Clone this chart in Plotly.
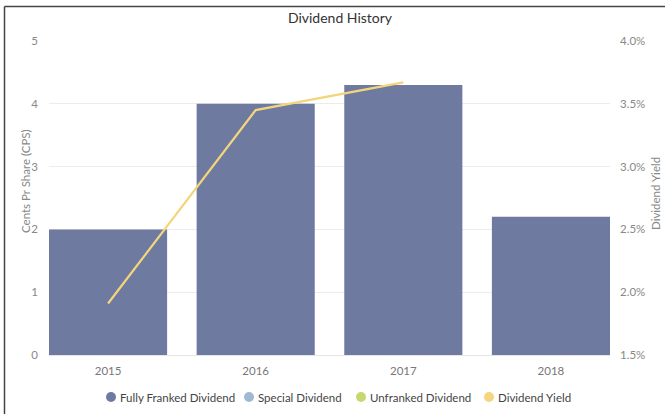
import plotly.graph_objects as go

# Dividend data
years = ["2015", "2016", "2017", "2018"]
fully_franked = [2.0, 4.0, 4.3, 2.2]          # cents per share
dividend_yield = [1.91, 3.45, 3.67, None]     # percent

left_ticks = [0, 1, 2, 3, 4, 5]
right_ticks = [1.5, 2.0, 2.5, 3.0, 3.5, 4.0]
right_tick_text = ["1.5%", "2.0%", "2.5%", "3.0%", "3.5%", "4.0%"]

legend_names = ["Fully Franked Dividend", "Special Dividend", "Unfranked Dividend", "Dividend Yield"]
legend_colors = ["#6f7aa1", "#9fb9d3", "#c8d86f", "#f5d67e"]
legend_marker_px = [111, 249, 361, 489]   # horizontal position of each legend dot

BAR_COLOR = "#6f7aa1"
LINE_COLOR = "#f3d57c"
FONT = "Segoe UI, Lato, Noto Sans, sans-serif"

W, H = 665, 414
L, R, T, B = 49, 55, 41, 59
pw, ph = W - L - R, H - T - B


def px_x(x):
    return (x - L) / pw


def px_y(y):
    return (H - B - y) / ph


fig = go.Figure()

fig.add_trace(go.Bar(
    x=list(range(len(years))), y=fully_franked, name="Fully Franked Dividend",
    marker=dict(color=BAR_COLOR, line=dict(width=0)), width=0.8,
    showlegend=False, yaxis="y", hoverinfo="y",
))

fig.add_trace(go.Scatter(
    x=list(range(len(years))), y=dividend_yield, name="Dividend Yield",
    mode="lines", line=dict(color=LINE_COLOR, width=2.2),
    yaxis="y2", showlegend=False, connectgaps=False,
))

fig.update_layout(
    width=W, height=H,
    margin=dict(l=L, r=R, t=T, b=B, pad=0, autoexpand=False),
    paper_bgcolor="white", plot_bgcolor="white",
    font=dict(family=FONT, color="#777777", size=11),
    title=dict(text="Dividend History", x=340 / W, xanchor="center",
               y=1 - 18 / H, yanchor="middle",
               font=dict(family=FONT, size=14, color="#333333")),
    xaxis=dict(
        range=[-0.4, 3.4], tickmode="array", tickvals=list(range(len(years))),
        ticktext=years, showgrid=False, zeroline=False,
        showline=True, linecolor="#e6e6e6", linewidth=1,
        ticks="", ticklabelstandoff=5, tickfont=dict(size=11.5, color="#777777"),
    ),
    yaxis=dict(
        range=[0, 5], tickvals=left_ticks, showgrid=True, gridcolor="#ececec",
        gridwidth=1, zeroline=False, showline=False, ticks="",
        ticklabelstandoff=10, tickfont=dict(size=11.5, color="#888888"),
    ),
    yaxis2=dict(
        range=[1.5, 4.0], tickmode="array", tickvals=right_ticks, ticktext=right_tick_text,
        overlaying="y", side="right", showgrid=False, zeroline=False,
        showline=False, ticks="", ticklabelstandoff=9,
        tickfont=dict(size=11.5, color="#888888"),
    ),
    bargap=0.2,
    showlegend=False,
)

# Legend: round dots followed by series names
for name, color, mx in zip(legend_names, legend_colors, legend_marker_px):
    fig.add_shape(type="circle", xref="paper", yref="paper",
                  x0=px_x(mx - 5), x1=px_x(mx + 5), y0=px_y(402), y1=px_y(392),
                  fillcolor=color, line=dict(width=0))
    fig.add_annotation(text=name, xref="paper", yref="paper",
                       x=px_x(mx + 7), y=px_y(397), showarrow=False,
                       xanchor="left", yanchor="middle",
                       font=dict(family=FONT, size=11.5, color="#444444"))

# Axis titles
fig.add_annotation(text="Cents Pr Share (CPS)", xref="paper", yref="paper",
                   x=px_x(25), y=px_y(181), textangle=-90, showarrow=False,
                   xanchor="center", yanchor="middle",
                   font=dict(family=FONT, size=11.5, color="#888888"))
fig.add_annotation(text="Dividend Yield", xref="paper", yref="paper",
                   x=px_x(655), y=px_y(194), textangle=-90, showarrow=False,
                   xanchor="center", yanchor="middle",
                   font=dict(family=FONT, size=11.5, color="#888888"))

# Frame lines on the left and top edges
fig.add_shape(type="line", xref="paper", yref="paper",
              x0=px_x(4.5), x1=px_x(4.5), y0=px_y(6.5), y1=px_y(414),
              line=dict(color="#444444", width=1.5))
fig.add_shape(type="line", xref="paper", yref="paper",
              x0=px_x(4.5), x1=px_x(665), y0=px_y(6.5), y1=px_y(6.5),
              line=dict(color="#444444", width=1.5))

fig.write_html("out.html")
